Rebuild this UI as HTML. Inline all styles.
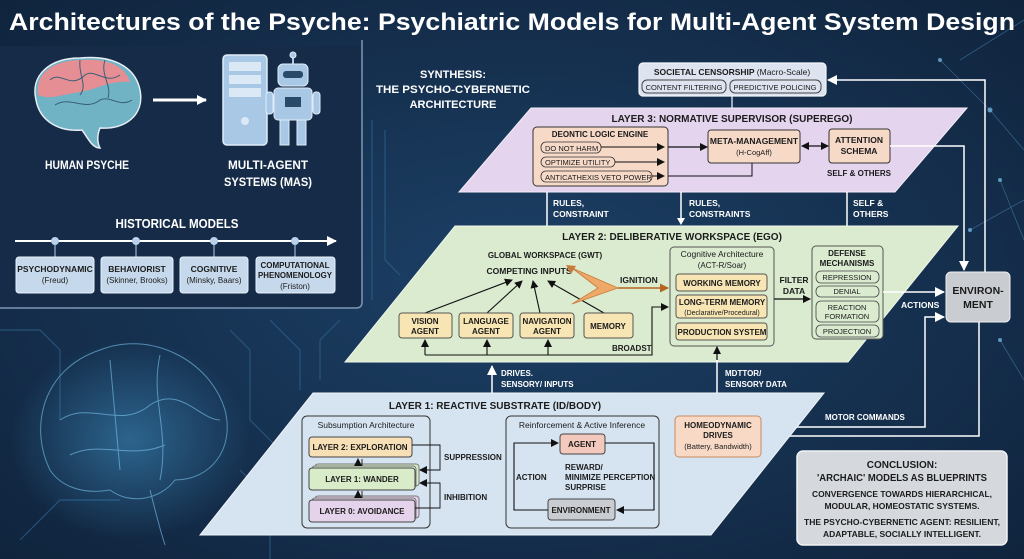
<!DOCTYPE html>
<html><head><meta charset="utf-8"><style>
html,body{margin:0;padding:0;background:#15304f}
svg{display:block}
text{font-family:"Liberation Sans",sans-serif;font-weight:bold;fill:#1b1b1b;font-size:9px}
.w{fill:#fff}
.n{font-weight:normal}
.c{text-anchor:middle}
</style></head><body>
<svg width="1024" height="559" viewBox="0 0 1024 559" xmlns="http://www.w3.org/2000/svg">
<defs>
<marker id="a" markerWidth="8" markerHeight="8" refX="7" refY="4" orient="auto" markerUnits="userSpaceOnUse"><path d="M0,0 L8,4 L0,8 z" fill="#111"/></marker>
<marker id="aw" markerWidth="10" markerHeight="10" refX="9" refY="5" orient="auto" markerUnits="userSpaceOnUse"><path d="M0,0 L10,5 L0,10 z" fill="#fff"/></marker>
<marker id="as" markerWidth="8" markerHeight="8" refX="1" refY="4" orient="auto" markerUnits="userSpaceOnUse"><path d="M8,0 L0,4 L8,8 z" fill="#111"/></marker>
<marker id="ao" markerWidth="9" markerHeight="9" refX="8" refY="4.5" orient="auto" markerUnits="userSpaceOnUse"><path d="M0,0 L9,4.5 L0,9 z" fill="#b5651d"/></marker>
<radialGradient id="bg" cx="0.5" cy="0.5" r="0.7"><stop offset="0" stop-color="#1c4066"/><stop offset="1" stop-color="#10243d"/></radialGradient>
<radialGradient id="brain" cx="0.5" cy="0.5" r="0.5"><stop offset="0" stop-color="#4aa8e0" stop-opacity="0.45"/><stop offset="1" stop-color="#4aa8e0" stop-opacity="0"/></radialGradient>
</defs>
<rect width="1024" height="559" fill="url(#bg)"/>
<g stroke="#2f6290" stroke-width="1.2" fill="none" opacity="0.7">
<path d="M0,330 L40,330 L60,350 L60,420"/><path d="M230,330 L250,350 L250,420 L280,450"/><path d="M270,320 L300,350 L300,390"/>
<path d="M340,320 L320,340 L320,380"/><path d="M20,540 L60,500 L120,500"/><path d="M240,470 L270,500 L270,559"/>
<path d="M372,120 L372,300"/><path d="M385,130 L385,260 L400,275"/>
</g>
<g stroke="#4f8fc0" stroke-width="0.8" opacity="0.5">
<line x1="960" y1="60" x2="1024" y2="20"/><line x1="990" y1="110" x2="1024" y2="150"/><line x1="1000" y1="180" x2="1024" y2="240"/><line x1="970" y1="230" x2="1024" y2="200"/><line x1="940" y1="60" x2="990" y2="110"/><line x1="1000" y1="340" x2="1024" y2="380"/>
</g>
<g fill="#7fc4ef" opacity="0.7"><circle cx="990" cy="110" r="2.5"/><circle cx="1000" cy="180" r="2"/><circle cx="970" cy="230" r="2"/><circle cx="940" cy="60" r="2"/><circle cx="1000" cy="340" r="2"/></g>
<ellipse cx="130" cy="440" rx="120" ry="100" fill="url(#brain)"/>
<g fill="none" stroke="#7cc7f2" stroke-width="1" opacity="0.6">
<path d="M50,470 C30,430 40,370 100,350 C150,330 210,360 225,410 C235,450 210,480 175,480 C160,500 130,505 110,490 C80,495 60,485 50,470 z"/>
<path d="M60,420 C90,400 120,430 150,405 C180,385 200,420 220,420"/><path d="M70,455 C100,440 130,460 165,445"/><path d="M110,360 L120,470"/><path d="M160,355 C150,400 170,430 160,480"/>
<path d="M150,490 C155,510 160,530 165,545"/>
</g>
<text x="512" y="30" class="w c" style="font-size:24px" textLength="1006" lengthAdjust="spacingAndGlyphs">Architectures of the Psyche: Psychiatric Models for Multi-Agent System Design</text>
<path d="M0,46 L362,46 L362,302 Q362,308 356,308 L0,308 z" fill="#152b47" stroke="none"/>
<path d="M362,40 L362,302 Q362,308 356,308 L0,308" fill="none" stroke="#7d98b5" stroke-width="1.5"/>
<g>
<path d="M36,100 C30,75 50,58 80,58 C110,55 135,65 140,90 C145,115 125,130 100,128 C95,140 100,148 100,148 C92,148 88,138 82,130 C60,132 40,122 36,100 z" fill="#6fb3c4" stroke="#e8eef5" stroke-width="1.5"/>
<path d="M38,95 C35,72 55,60 82,60 C108,58 125,66 130,82 C110,80 95,90 80,92 C60,95 50,100 38,95 z" fill="#e58f94"/>
<g stroke="#3a5f78" stroke-width="1" fill="none"><path d="M50,80 C60,70 70,90 85,75 C95,68 105,85 120,75"/><path d="M55,105 C70,95 85,112 100,100 C110,95 120,108 132,100"/><path d="M80,60 C78,75 88,85 80,95"/><path d="M105,60 C100,75 112,85 108,98"/></g>
</g>
<line x1="153" y1="100" x2="206" y2="100" stroke="#fff" stroke-width="3" marker-end="url(#aw)"/>
<rect x="223" y="55" width="44" height="90" rx="4" fill="#a9c8e6" stroke="#e0edf8" stroke-width="1.5"/>
<rect x="229" y="62" width="32" height="9" fill="#dbe9f6"/><rect x="229" y="75" width="32" height="9" fill="#dbe9f6"/><rect x="229" y="88" width="32" height="9" fill="#dbe9f6"/>
<circle cx="245" cy="121" r="4" fill="#dbe9f6"/>
<g fill="#a9c8e6" stroke="#e0edf8" stroke-width="1">
<line x1="293" y1="55" x2="293" y2="64" stroke="#a9c8e6" stroke-width="2"/><circle cx="293" cy="55" r="3"/>
<rect x="278" y="64" width="30" height="22" rx="5"/><rect x="274" y="88" width="38" height="32" rx="4"/>
<rect x="266" y="92" width="7" height="22" rx="3"/><rect x="313" y="92" width="7" height="22" rx="3"/>
<rect x="280" y="120" width="9" height="25"/><rect x="297" y="120" width="9" height="25"/>
</g>
<rect x="283" y="71" width="20" height="7" rx="3" fill="#2a4a6a"/><rect x="285" y="97" width="16" height="10" fill="#2a4a6a"/>
<text x="87" y="169" class="w c" style="font-size:12px" textLength="84" lengthAdjust="spacingAndGlyphs">HUMAN PSYCHE</text>
<text x="268" y="169" class="w c" style="font-size:12px" textLength="80" lengthAdjust="spacingAndGlyphs">MULTI-AGENT</text>
<text x="268" y="186" class="w c" style="font-size:12px" textLength="88" lengthAdjust="spacingAndGlyphs">SYSTEMS (MAS)</text>
<text x="177" y="228" class="w c" style="font-size:13px" textLength="123" lengthAdjust="spacingAndGlyphs">HISTORICAL MODELS</text>
<line x1="15" y1="241" x2="336" y2="241" stroke="#fff" stroke-width="2" marker-end="url(#aw)"/>
<g fill="#b9d2ea" stroke="#b9d2ea"><circle cx="55" cy="241" r="3.5"/><circle cx="136" cy="241" r="3.5"/><circle cx="214" cy="241" r="3.5"/><circle cx="295" cy="241" r="3.5"/>
<line x1="55" y1="241" x2="55" y2="257"/><line x1="136" y1="241" x2="136" y2="257"/><line x1="214" y1="241" x2="214" y2="257"/><line x1="295" y1="241" x2="295" y2="257"/></g>
<g fill="#c6d9ec" stroke="#e8f1fa" stroke-width="1"><rect x="16" y="257" width="78" height="36" rx="3"/><rect x="101" y="257" width="72" height="36" rx="3"/><rect x="180" y="257" width="68" height="36" rx="3"/><rect x="256" y="257" width="79" height="36" rx="3"/></g>
<text x="55" y="272" class="c" style="font-size:8.5px">PSYCHODYNAMIC</text><text x="55" y="283" class="c n" style="font-size:8px">(Freud)</text>
<text x="137" y="272" class="c" style="font-size:8.5px">BEHAVIORIST</text><text x="137" y="283" class="c n" style="font-size:8px">(Skinner, Brooks)</text>
<text x="214" y="272" class="c" style="font-size:8.5px">COGNITIVE</text><text x="214" y="283" class="c n" style="font-size:8px">(Minsky, Baars)</text>
<text x="295" y="268" class="c" style="font-size:8px">COMPUTATIONAL</text><text x="295" y="278" class="c" style="font-size:8px" textLength="74" lengthAdjust="spacingAndGlyphs">PHENOMENOLOGY</text><text x="295" y="289" class="c n" style="font-size:8px">(Friston)</text>
<text x="453" y="78" class="w c" style="font-size:11px">SYNTHESIS:</text>
<text x="453" y="93" class="w c" style="font-size:11px" textLength="154" lengthAdjust="spacingAndGlyphs">THE PSYCHO-CYBERNETIC</text>
<text x="453" y="108" class="w c" style="font-size:11px">ARCHITECTURE</text>
<line x1="732" y1="96" x2="732" y2="110" stroke="#c8d3e0" stroke-width="1.5"/>
<rect x="639" y="63" width="187" height="33" rx="4" fill="#dde3ef" stroke="#f2f5fa" stroke-width="1.2"/>
<text x="732" y="75" class="c" style="font-size:8.5px">SOCIETAL CENSORSHIP <tspan class="n">(Macro-Scale)</tspan></text>
<rect x="642" y="80" width="84" height="13" rx="5" fill="none" stroke="#444"/><rect x="730" y="80" width="91" height="13" rx="5" fill="none" stroke="#444"/>
<text x="684" y="90" class="c n" style="font-size:7.5px">CONTENT FILTERING</text><text x="775" y="90" class="c n" style="font-size:7.5px">PREDICTIVE POLICING</text>
<polyline points="985,272 985,80 828,80" fill="none" stroke="#fff" stroke-width="1.5" marker-end="url(#aw)"/>
<polygon points="531,108 967,108 895,192 459,192" fill="#e4d4ee" stroke="#f4eef8" stroke-width="1"/>
<text x="732" y="122" class="c" style="font-size:10px">LAYER 3: NORMATIVE SUPERVISOR (SUPEREGO)</text>
<rect x="533" y="127" width="135" height="59" rx="4" fill="#f7d9c8" stroke="#333"/>
<text x="600" y="137" class="c" style="font-size:8px">DEONTIC LOGIC ENGINE</text>
<g fill="none" stroke="#333" stroke-width="0.8"><rect x="541" y="142" width="60" height="11" rx="5"/><rect x="541" y="157" width="74" height="10" rx="5"/><rect x="541" y="171" width="111" height="11" rx="5"/></g>
<text x="545" y="151" class="n" style="font-size:7.5px">DO NOT HARM</text><text x="545" y="165" class="n" style="font-size:7.5px">OPTIMIZE UTILITY</text><text x="545" y="180" class="n" style="font-size:7.5px">ANTICATHEXIS VETO POWER</text>
<g stroke="#111" stroke-width="1" fill="none">
<line x1="601" y1="147" x2="664" y2="147" marker-end="url(#a)"/><line x1="615" y1="162" x2="664" y2="162" marker-end="url(#a)"/><line x1="652" y1="176" x2="664" y2="176" marker-end="url(#a)"/>
<line x1="668" y1="147" x2="707" y2="147" stroke-width="1.3" marker-end="url(#a)"/>
<polyline points="668,176 752,176 752,163"/>
<line x1="802" y1="146" x2="828" y2="146" stroke-width="1.3" marker-end="url(#a)" marker-start="url(#as)"/>
</g>
<rect x="708" y="130" width="92" height="33" rx="3" fill="#f7d9c8" stroke="#333"/>
<text x="754" y="144" class="c" style="font-size:8.5px">META-MANAGEMENT</text><text x="754" y="155" class="c n" style="font-size:7.5px">(H-CogAff)</text>
<rect x="829" y="129" width="61" height="34" rx="3" fill="#f7d9c8" stroke="#333"/>
<text x="859" y="143" class="c" style="font-size:8.5px">ATTENTION</text><text x="859" y="154" class="c" style="font-size:8.5px">SCHEMA</text>
<text x="859" y="176" class="c" style="font-size:8px">SELF &amp; OTHERS</text>
<polyline points="890,146 964,146 964,270" fill="none" stroke="#fff" stroke-width="1.5" marker-end="url(#aw)"/>
<g stroke="#fff" stroke-width="1.5"><line x1="547" y1="192" x2="547" y2="228"/><line x1="681" y1="192" x2="681" y2="222"/><line x1="847" y1="192" x2="847" y2="228"/></g>
<g stroke="#111" stroke-width="1.3"><line x1="547" y1="226" x2="547" y2="245" marker-end="url(#a)"/><line x1="847" y1="226" x2="847" y2="244" marker-end="url(#a)"/></g>
<path d="M677,218 L685,218 L681,225 z" fill="#fff"/>
<text x="553" y="206" class="w" style="font-size:8.5px">RULES,</text><text x="553" y="217" class="w" style="font-size:8.5px">CONSTRAINT</text>
<text x="689" y="206" class="w" style="font-size:8.5px">RULES,</text><text x="689" y="217" class="w" style="font-size:8.5px">CONSTRAINTS</text>
<text x="853" y="206" class="w" style="font-size:8.5px">SELF &amp;</text><text x="853" y="217" class="w" style="font-size:8.5px">OTHERS</text>
<polygon points="455,226 958,226 848,362 345,362" fill="#dbebd0" stroke="#f0f7ea" stroke-width="1"/>
<text x="672" y="240" class="c" style="font-size:10px">LAYER 2: DELIBERATIVE WORKSPACE (EGO)</text>
<text x="545" y="258" class="c" style="font-size:8px">GLOBAL WORKSPACE (GWT)</text>
<text x="529" y="274" class="c" style="font-size:8.5px">COMPETING INPUTS</text>
<g stroke="#111" stroke-width="1.1">
<line x1="425" y1="313" x2="512" y2="280" marker-end="url(#a)"/><line x1="487" y1="313" x2="522" y2="281" marker-end="url(#a)"/><line x1="540" y1="313" x2="533" y2="281" marker-end="url(#a)"/><line x1="604" y1="313" x2="548" y2="281" marker-end="url(#a)"/>
</g>
<polygon points="618,288 572,268 598,288 572,304" fill="#eea868" stroke="#c97a3a" stroke-width="0.8"/>
<path d="M566,265 L576,266 L571,274 z" fill="#c97a3a"/>
<line x1="618" y1="288" x2="668" y2="288" stroke="#b5651d" stroke-width="1.5" marker-end="url(#ao)"/>
<text x="620" y="283" style="font-size:8.5px">IGNITION</text>
<g fill="#f8e5b4" stroke="#555" stroke-width="1">
<rect x="399" y="313" width="53" height="25" rx="3"/><rect x="459" y="313" width="54" height="25" rx="3"/><rect x="520" y="313" width="54" height="25" rx="3"/><rect x="584" y="313" width="49" height="25" rx="3"/>
</g>
<text x="425" y="324" class="c" style="font-size:8px">VISION</text><text x="425" y="334" class="c" style="font-size:8px">AGENT</text>
<text x="486" y="324" class="c" style="font-size:8px">LANGUAGE</text><text x="486" y="334" class="c" style="font-size:8px">AGENT</text>
<text x="547" y="324" class="c" style="font-size:8px">NAVIGATION</text><text x="547" y="334" class="c" style="font-size:8px">AGENT</text>
<text x="608" y="329" class="c" style="font-size:8px">MEMORY</text>
<g stroke="#111" stroke-width="1.1" fill="none">
<polyline points="425,355 652,355 652,307 668,307" marker-end="url(#a)"/>
<line x1="425" y1="355" x2="425" y2="340" marker-end="url(#a)"/><line x1="487" y1="355" x2="487" y2="340" marker-end="url(#a)"/><line x1="548" y1="355" x2="548" y2="340" marker-end="url(#a)"/>
</g>
<text x="612" y="351" style="font-size:8px">BROADST</text>
<rect x="670" y="247" width="104" height="99" rx="4" fill="#dbebd0" stroke="#555"/>
<text x="722" y="257" class="c n" style="font-size:8.5px">Cognitive Architecture</text><text x="722" y="268" class="c n" style="font-size:8px">(ACT-R/Soar)</text>
<g fill="#f8e5b4" stroke="#555"><rect x="676" y="274" width="91" height="17" rx="3"/><rect x="676" y="295" width="91" height="23" rx="3"/><rect x="676" y="323" width="91" height="17" rx="3"/></g>
<text x="722" y="286" class="c" style="font-size:8px">WORKING MEMORY</text>
<text x="722" y="305" class="c" style="font-size:8px">LONG-TERM MEMORY</text><text x="722" y="315" class="c n" style="font-size:7px">(Declarative/Procedural)</text>
<text x="722" y="335" class="c" style="font-size:8px">PRODUCTION SYSTEM</text>
<text x="794" y="283" class="c" style="font-size:8.5px">FILTER</text><text x="794" y="294" class="c" style="font-size:8.5px">DATA</text>
<line x1="774" y1="299" x2="810" y2="299" stroke="#111" stroke-width="1.2" marker-end="url(#a)"/>
<rect x="812" y="246" width="71" height="93" rx="4" fill="#dbebd0" stroke="#555"/>
<text x="847" y="256" class="c" style="font-size:8px">DEFENSE</text><text x="847" y="266" class="c" style="font-size:8px">MECHANISMS</text>
<g fill="none" stroke="#444" stroke-width="0.8"><rect x="816" y="271" width="63" height="12" rx="5"/><rect x="816" y="286" width="63" height="11" rx="5"/><rect x="816" y="301" width="63" height="21" rx="5"/><rect x="816" y="325" width="63" height="12" rx="5"/></g>
<text x="847" y="280" class="c n" style="font-size:7.5px">REPRESSION</text><text x="847" y="294" class="c n" style="font-size:7.5px">DENIAL</text>
<text x="847" y="310" class="c n" style="font-size:7.5px">REACTION</text><text x="847" y="319" class="c n" style="font-size:7.5px">FORMATION</text>
<text x="847" y="334" class="c n" style="font-size:7.5px">PROJECTION</text>
<line x1="883" y1="292" x2="944" y2="292" stroke="#fff" stroke-width="1.5" marker-end="url(#aw)"/>
<text x="901" y="308" class="w" style="font-size:8.5px">ACTIONS</text>
<rect x="946" y="272" width="64" height="50" rx="5" fill="#c9cdd2" stroke="#eee" stroke-width="1"/>
<text x="978" y="294" class="c" style="font-size:10.5px">ENVIRON-</text><text x="978" y="308" class="c" style="font-size:10.5px">MENT</text>
<polyline points="761,427 925,427 925,317 944,317" fill="none" stroke="#fff" stroke-width="1.5" marker-end="url(#aw)"/>
<polyline points="979,322 979,436 763,436" fill="none" stroke="#fff" stroke-width="1.5" marker-end="url(#aw)"/>
<text x="825" y="420" class="w" style="font-size:8px">MOTOR COMMANDS</text>
<line x1="492" y1="393" x2="492" y2="366" stroke="#fff" stroke-width="1.5" marker-end="url(#aw)"/>
<text x="501" y="376" class="w" style="font-size:8px">DRIVES.</text><text x="501" y="387" class="w" style="font-size:8px">SENSORY/ INPUTS</text>
<line x1="717" y1="416" x2="717" y2="350" stroke="#fff" stroke-width="1.5"/>
<line x1="717" y1="360" x2="717" y2="347" stroke="#111" stroke-width="1.3" marker-end="url(#a)"/>
<text x="725" y="376" class="w" style="font-size:8px">MDTTOR/</text><text x="725" y="387" class="w" style="font-size:8px">SENSORY DATA</text>
<polygon points="313,393 824,393 711,535 200,535" fill="#d6e4f2" stroke="#eef4fa" stroke-width="1"/>
<text x="495" y="409" class="c" style="font-size:10px">LAYER 1: REACTIVE SUBSTRATE (ID/BODY)</text>
<rect x="302" y="416" width="128" height="112" rx="5" fill="#d6e4f2" stroke="#333"/>
<text x="366" y="428" class="c n" style="font-size:8.5px">Subsumption Architecture</text>
<rect x="309" y="437" width="103" height="20" rx="3" fill="#f7dfb6" stroke="#444"/>
<text x="360" y="450" class="c" style="font-size:8px">LAYER 2: EXPLORATION</text>
<rect x="315" y="464" width="104" height="22" rx="3" fill="#d9ecc9" stroke="#777"/><rect x="312" y="466" width="104" height="22" rx="3" fill="#d9ecc9" stroke="#777"/>
<rect x="309" y="468" width="106" height="22" rx="3" fill="#d9ecc9" stroke="#444"/>
<text x="362" y="482" class="c" style="font-size:8px">LAYER 1: WANDER</text>
<rect x="315" y="496" width="104" height="22" rx="3" fill="#e4d3ea" stroke="#777"/><rect x="312" y="498" width="104" height="22" rx="3" fill="#e4d3ea" stroke="#777"/>
<rect x="309" y="500" width="106" height="22" rx="3" fill="#e4d3ea" stroke="#444"/>
<text x="362" y="514" class="c" style="font-size:8px">LAYER 0: AVOIDANCE</text>
<g stroke="#111" stroke-width="0.9" fill="none">
<line x1="358" y1="466" x2="358" y2="459" marker-end="url(#a)"/><line x1="362" y1="459" x2="362" y2="466"/>
<line x1="358" y1="498" x2="358" y2="491" marker-end="url(#a)"/><line x1="362" y1="491" x2="362" y2="498"/>
<polyline points="412,445 440,445 440,470 420,470" marker-end="url(#a)"/>
<polyline points="415,508 440,508 440,483 420,483" marker-end="url(#a)"/>
</g>
<text x="444" y="460" style="font-size:8px">SUPPRESSION</text><text x="444" y="500" style="font-size:8px">INHIBITION</text>
<rect x="506" y="416" width="153" height="112" rx="5" fill="#d6e4f2" stroke="#333"/>
<text x="582" y="428" class="c n" style="font-size:8.5px">Reinforcement &amp; Active Inference</text>
<rect x="560" y="434" width="45" height="20" rx="3" fill="#f3c8bd" stroke="#444"/>
<text x="582" y="447" class="c" style="font-size:8px">AGENT</text>
<rect x="548" y="499" width="67" height="21" rx="3" fill="#c9ccd0" stroke="#444"/>
<text x="581" y="513" class="c" style="font-size:8px">ENVIRONMENT</text>
<g stroke="#111" stroke-width="1.1" fill="none">
<polyline points="548,510 514,510 514,443 558,443" marker-end="url(#a)"/>
<polyline points="605,443 654,443 654,510 617,510" marker-end="url(#a)"/>
</g>
<text x="516" y="480" style="font-size:8px">ACTION</text>
<text x="565" y="470" style="font-size:8px">REWARD/</text><text x="565" y="480" style="font-size:8px">MINIMIZE PERCEPTION</text><text x="565" y="490" style="font-size:8px">SURPRISE</text>
<rect x="675" y="416" width="86" height="41" rx="4" fill="#f7d9c6" stroke="#c98a5c"/>
<text x="718" y="428" class="c" style="font-size:8px">HOMEODYNAMIC</text><text x="718" y="438" class="c" style="font-size:8px">DRIVES</text><text x="718" y="449" class="c n" style="font-size:7.5px">(Battery, Bandwidth)</text>
<rect x="797" y="451" width="210" height="94" rx="6" fill="#d5d9de" stroke="#f2f3f5" stroke-width="1.5"/>
<text x="902" y="468" class="c" style="font-size:10px">CONCLUSION:</text>
<text x="902" y="481" class="c" style="font-size:10px" textLength="170" lengthAdjust="spacingAndGlyphs">'ARCHAIC' MODELS AS BLUEPRINTS</text>
<text x="902" y="497" class="c" style="font-size:8.5px" textLength="180" lengthAdjust="spacingAndGlyphs">CONVERGENCE TOWARDS HIERARCHICAL,</text>
<text x="902" y="509" class="c" style="font-size:8.5px">MODULAR, HOMEOSTATIC SYSTEMS.</text>
<text x="902" y="525" class="c" style="font-size:8.5px" textLength="196" lengthAdjust="spacingAndGlyphs">THE PSYCHO-CYBERNETIC AGENT: RESILIENT,</text>
<text x="902" y="537" class="c" style="font-size:8.5px">ADAPTABLE, SOCIALLY INTELLIGENT.</text>
</svg>
</body></html>
